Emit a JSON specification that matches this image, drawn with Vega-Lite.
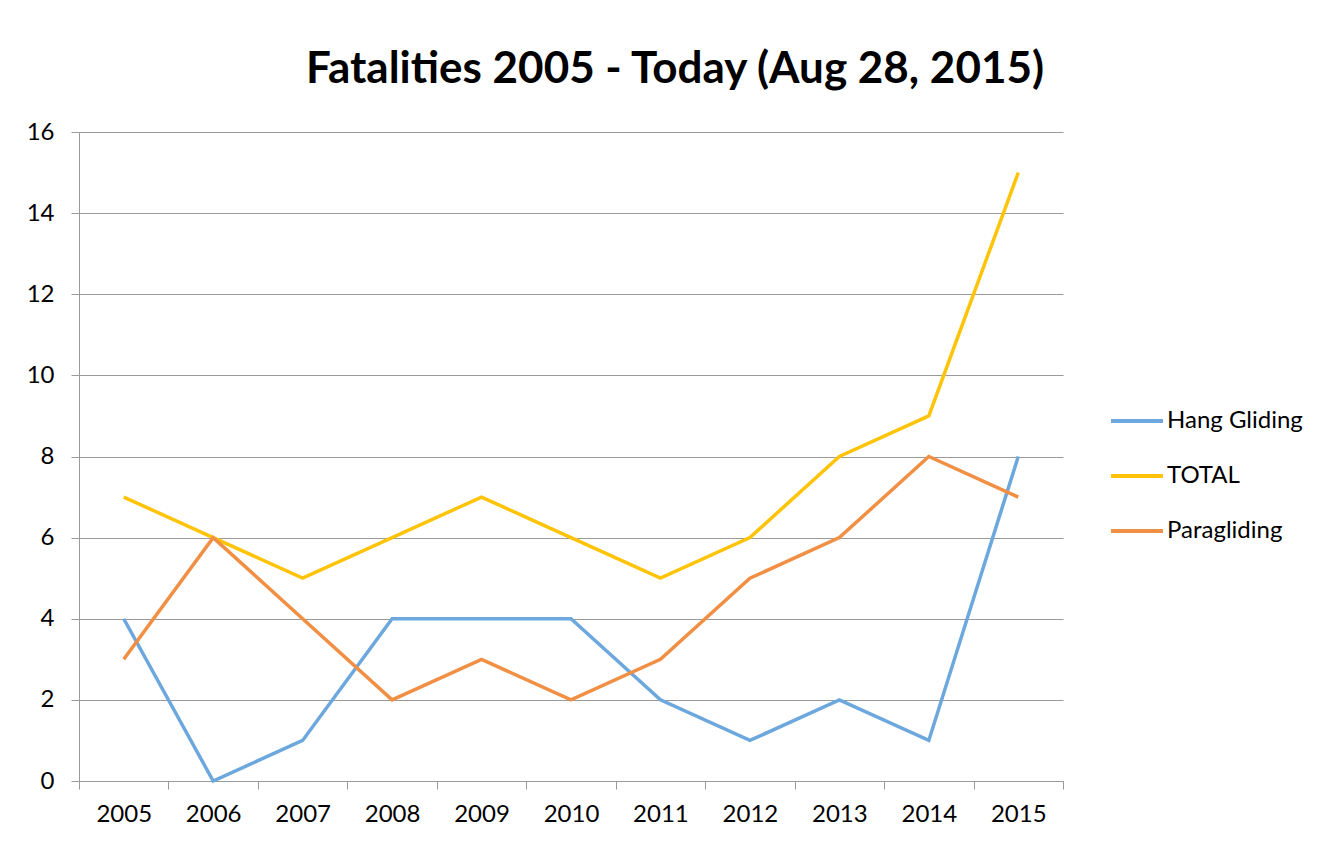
{
  "$schema": "https://vega.github.io/schema/vega-lite/v6.json",
  "width": 984,
  "height": 649,
  "autosize": {"type": "none"},
  "padding": {"left": 79, "top": 132, "right": 281, "bottom": 61},
  "background": "white",
  "title": {
    "text": "Fatalities 2005 - Today (Aug 28, 2015)",
    "font": "Lato",
    "fontWeight": "bold",
    "fontSize": 44,
    "color": "#000000",
    "anchor": "middle",
    "dx": 104,
    "offset": 28
  },
  "data": {
    "values": [
      {"year": "2005", "series": "Hang Gliding", "value": 4},
      {"year": "2006", "series": "Hang Gliding", "value": 0},
      {"year": "2007", "series": "Hang Gliding", "value": 1},
      {"year": "2008", "series": "Hang Gliding", "value": 4},
      {"year": "2009", "series": "Hang Gliding", "value": 4},
      {"year": "2010", "series": "Hang Gliding", "value": 4},
      {"year": "2011", "series": "Hang Gliding", "value": 2},
      {"year": "2012", "series": "Hang Gliding", "value": 1},
      {"year": "2013", "series": "Hang Gliding", "value": 2},
      {"year": "2014", "series": "Hang Gliding", "value": 1},
      {"year": "2015", "series": "Hang Gliding", "value": 8},
      {"year": "2005", "series": "TOTAL", "value": 7},
      {"year": "2006", "series": "TOTAL", "value": 6},
      {"year": "2007", "series": "TOTAL", "value": 5},
      {"year": "2008", "series": "TOTAL", "value": 6},
      {"year": "2009", "series": "TOTAL", "value": 7},
      {"year": "2010", "series": "TOTAL", "value": 6},
      {"year": "2011", "series": "TOTAL", "value": 5},
      {"year": "2012", "series": "TOTAL", "value": 6},
      {"year": "2013", "series": "TOTAL", "value": 8},
      {"year": "2014", "series": "TOTAL", "value": 9},
      {"year": "2015", "series": "TOTAL", "value": 15},
      {"year": "2005", "series": "Paragliding", "value": 3},
      {"year": "2006", "series": "Paragliding", "value": 6},
      {"year": "2007", "series": "Paragliding", "value": 4},
      {"year": "2008", "series": "Paragliding", "value": 2},
      {"year": "2009", "series": "Paragliding", "value": 3},
      {"year": "2010", "series": "Paragliding", "value": 2},
      {"year": "2011", "series": "Paragliding", "value": 3},
      {"year": "2012", "series": "Paragliding", "value": 5},
      {"year": "2013", "series": "Paragliding", "value": 6},
      {"year": "2014", "series": "Paragliding", "value": 8},
      {"year": "2015", "series": "Paragliding", "value": 7}
    ]
  },
  "mark": {"type": "line", "strokeWidth": 3.5, "strokeJoin": "miter"},
  "encoding": {
    "x": {
      "field": "year",
      "type": "ordinal",
      "scale": {"type": "band", "paddingInner": 0, "paddingOuter": 0},
      "axis": {
        "title": null,
        "labelAngle": 0,
        "tickBand": "extent",
        "grid": false,
        "domainColor": "#9a9a9a",
        "tickColor": "#9a9a9a",
        "tickSize": 8,
        "labelFont": "Lato",
        "labelFontSize": 24,
        "labelColor": "#000000",
        "labelPadding": 13
      }
    },
    "y": {
      "field": "value",
      "type": "quantitative",
      "scale": {"domain": [0, 16]},
      "axis": {
        "title": null,
        "values": [0, 2, 4, 6, 8, 10, 12, 14, 16],
        "grid": true,
        "gridColor": "#9a9a9a",
        "domainColor": "#9a9a9a",
        "tickColor": "#9a9a9a",
        "tickSize": 8,
        "labelFont": "Lato",
        "labelFontSize": 24,
        "labelColor": "#000000",
        "labelPadding": 17
      }
    },
    "color": {
      "field": "series",
      "type": "nominal",
      "sort": ["Hang Gliding", "TOTAL", "Paragliding"],
      "scale": {
        "domain": ["Hang Gliding", "TOTAL", "Paragliding"],
        "range": ["#6CA7DD", "#FFC408", "#F18F44"]
      },
      "legend": {
        "title": null,
        "orient": "none",
        "legendX": 1030,
        "legendY": 261,
        "symbolType": "stroke",
        "symbolSize": 2700,
        "symbolStrokeWidth": 4,
        "labelFont": "Lato",
        "labelFontSize": 24,
        "labelColor": "#000000",
        "labelOffset": 2,
        "rowPadding": 15
      }
    }
  },
  "config": {"view": {"stroke": null}}
}
